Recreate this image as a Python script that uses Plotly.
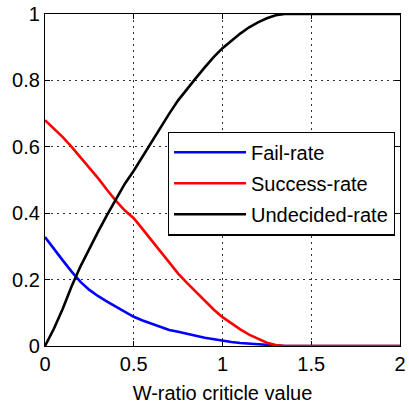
import plotly.graph_objects as go

# Threshold values of the W-ratio criterion
w_ratio = [0.00, 0.05, 0.10, 0.15, 0.20, 0.25, 0.30, 0.35, 0.40, 0.45,
           0.50, 0.55, 0.60, 0.65, 0.70, 0.75, 0.80, 0.85, 0.90, 0.95,
           1.00, 1.05, 1.10, 1.15, 1.20, 1.25, 1.30, 1.35, 1.40, 1.50,
           1.60, 1.70, 1.80, 1.90, 2.00]

fail_rate = [0.328, 0.292, 0.258, 0.224, 0.193, 0.169, 0.150, 0.134, 0.119, 0.103,
             0.088, 0.077, 0.067, 0.057, 0.048, 0.043, 0.036, 0.031, 0.025, 0.020,
             0.016, 0.012, 0.009, 0.007, 0.005, 0.003, 0.001, 0.000, 0.000, 0.000,
             0.000, 0.000, 0.000, 0.000, 0.000]

success_rate = [0.680, 0.655, 0.629, 0.600, 0.568, 0.538, 0.505, 0.470, 0.437, 0.408,
                0.385, 0.352, 0.320, 0.285, 0.252, 0.218, 0.190, 0.163, 0.137, 0.110,
                0.087, 0.068, 0.050, 0.034, 0.021, 0.010, 0.003, 0.000, 0.000, 0.000,
                0.000, 0.000, 0.000, 0.000, 0.000]

undecided_rate = [0.000, 0.052, 0.112, 0.180, 0.240, 0.295, 0.345, 0.395, 0.444, 0.489,
                  0.528, 0.572, 0.613, 0.658, 0.700, 0.740, 0.775, 0.807, 0.839, 0.870,
                  0.897, 0.920, 0.941, 0.960, 0.975, 0.987, 0.996, 1.000, 1.000, 1.000,
                  1.000, 1.000, 1.000, 1.000, 1.000]

series = [
    ("Fail-rate", fail_rate, "#0000ff"),
    ("Success-rate", success_rate, "#ff0000"),
    ("Undecided-rate", undecided_rate, "#000000"),
]

FONT = "Liberation Sans, Arial, Helvetica, sans-serif"

fig = go.Figure()
for i, (name, vals, color) in enumerate(series):
    fig.add_trace(go.Scatter(
        x=w_ratio, y=vals, mode="lines", name=name,
        legendgroup=f"g{i}",
        line=dict(color=color, width=2.6),
    ))

axis_common = dict(
    showline=True, linecolor="black", linewidth=1.2, mirror="ticks",
    ticks="inside", ticklen=5, tickwidth=1, tickcolor="black",
    showgrid=True, gridcolor="#333333", gridwidth=1, griddash="2px,4px",
    zeroline=False, layer="below traces", ticklabeloverflow="allow",
    tickfont=dict(family=FONT, size=20, color="black"),
)

fig.update_xaxes(range=[0, 2], tickvals=[0, 0.5, 1, 1.5, 2],
                 title=dict(text="W-ratio criticle value", standoff=12,
                            font=dict(family=FONT, size=20, color="black")),
                 **axis_common)
fig.update_yaxes(range=[0, 1], tickvals=[0, 0.2, 0.4, 0.6, 0.8, 1],
                 **axis_common)

fig.update_layout(
    width=409, height=404,
    margin=dict(l=45, r=3, t=13, b=58),
    paper_bgcolor="white", plot_bgcolor="white",
    font=dict(family=FONT, size=20, color="black"),
    showlegend=True,
    legend=dict(
        x=0.346, y=0.646, xanchor="left", yanchor="top",
        bgcolor="white", bordercolor="black", borderwidth=1.2,
        font=dict(family=FONT, size=20, color="black"),
        tracegroupgap=2, itemwidth=72,
    ),
)

fig.write_html("out.html")
